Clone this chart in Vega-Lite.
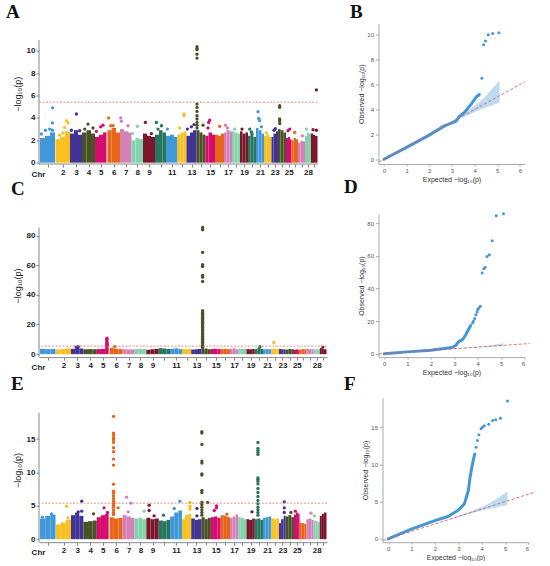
{
"$schema": "https://vega.github.io/schema/vega-lite/v6.json",
"background": "white",
"padding": {"left": 6, "top": 2.5, "right": 0, "bottom": 0},
"config": {
  "view": {"stroke": null},
  "font": "Liberation Sans",
  "axis": {"grid": false, "labelOverlap": false, "labelSeparation": 0},
  "title": {"font": "Liberation Serif", "fontSize": 19, "fontWeight": "bold", "anchor": "start", "frame": "group", "color": "#111", "baseline": "alphabetic"}
},
"datasets": {
"seg": [
{"c":1,"x":1,"x2":6,"hA":2.2,"hC":3.6,"hE":3.1},{"c":1,"x":6,"x2":11,"hA":2.4,"hC":3.4,"hE":3.5},{"c":1,"x":11,"x2":16,"hA":2.7,"hC":3.5,"hE":3.7},
{"c":2,"x":16.5,"x2":21,"hA":2.1,"hC":3.2,"hE":2.2},{"c":2,"x":21,"x2":26,"hA":2.3,"hC":3.4,"hE":2.5},{"c":2,"x":26,"x2":31,"hA":2.8,"hC":3.8,"hE":2.9},
{"c":3,"x":31,"x2":35,"hA":2.6,"hC":3.6,"hE":3.6},{"c":3,"x":35,"x2":39,"hA":2.9,"hC":4.4,"hE":4.0},{"c":3,"x":39,"x2":43,"hA":2.5,"hC":3.8,"hE":3.5},
{"c":4,"x":43,"x2":47.5,"hA":2.7,"hC":3.3,"hE":2.6},{"c":4,"x":47.5,"x2":52,"hA":2.9,"hC":3.4,"hE":2.7},{"c":4,"x":52,"x2":56,"hA":2.6,"hC":3.3,"hE":2.8},
{"c":5,"x":56,"x2":60,"hA":2.3,"hC":3.4,"hE":3.3},{"c":5,"x":60,"x2":64,"hA":2.5,"hC":3.5,"hE":3.6},{"c":5,"x":64,"x2":67.5,"hA":2.7,"hC":4.2,"hE":3.8},
{"c":6,"x":68.5,"x2":72.5,"hA":2.9,"hC":4.2,"hE":3.3},{"c":6,"x":72.5,"x2":77,"hA":3.1,"hC":3.5,"hE":3.1},{"c":6,"x":77,"x2":81,"hA":2.7,"hC":3.4,"hE":3.2},
{"c":7,"x":81,"x2":85,"hA":3.0,"hC":3.3,"hE":3.6},{"c":7,"x":85,"x2":89,"hA":2.8,"hC":3.1,"hE":3.4},{"c":7,"x":89,"x2":92.5,"hA":2.7,"hC":3.2,"hE":3.2},
{"c":8,"x":92.5,"x2":96.5,"hA":2.0,"hC":3.4,"hE":3.1},{"c":8,"x":96.5,"x2":100,"hA":2.2,"hC":3.5,"hE":3.2},{"c":8,"x":100,"x2":104,"hA":2.1,"hC":3.4,"hE":3.0},
{"c":9,"x":104,"x2":108,"hA":2.6,"hC":3.0,"hE":3.2},{"c":9,"x":108,"x2":112,"hA":2.4,"hC":3.3,"hE":3.0},{"c":9,"x":112,"x2":116,"hA":2.3,"hC":3.6,"hE":3.1},
{"c":10,"x":116,"x2":120,"hA":2.5,"hC":4.0,"hE":2.8},{"c":10,"x":120,"x2":123.5,"hA":2.9,"hC":3.8,"hE":2.7},{"c":10,"x":123.5,"x2":127,"hA":2.7,"hC":3.5,"hE":2.9},
{"c":11,"x":127,"x2":131,"hA":2.4,"hC":3.6,"hE":3.4},{"c":11,"x":131,"x2":135,"hA":2.5,"hC":3.9,"hE":4.0},{"c":11,"x":135,"x2":138.5,"hA":2.3,"hC":3.4,"hE":4.3},
{"c":12,"x":138.5,"x2":141.5,"hA":2.5,"hC":3.5,"hE":3.0},{"c":12,"x":141.5,"x2":144.5,"hA":2.7,"hC":3.3,"hE":3.6},{"c":12,"x":144.5,"x2":147.5,"hA":2.8,"hC":3.4,"hE":3.8},
{"c":13,"x":147.5,"x2":151,"hA":2.4,"hC":3.1,"hE":3.1},{"c":13,"x":151,"x2":154,"hA":2.7,"hC":3.3,"hE":2.9},{"c":13,"x":154,"x2":157.5,"hA":2.9,"hC":3.5,"hE":3.0},
{"c":14,"x":157.5,"x2":160.5,"hA":2.9,"hC":3.6,"hE":3.3},{"c":14,"x":160.5,"x2":163.5,"hA":2.7,"hC":3.8,"hE":3.0},{"c":14,"x":163.5,"x2":166.5,"hA":2.5,"hC":3.3,"hE":3.2},
{"c":15,"x":166.5,"x2":169.5,"hA":2.4,"hC":3.5,"hE":3.3},{"c":15,"x":169.5,"x2":173,"hA":2.7,"hC":3.6,"hE":3.4},{"c":15,"x":173,"x2":176,"hA":2.5,"hC":3.5,"hE":3.2},
{"c":16,"x":176,"x2":179,"hA":2.5,"hC":3.4,"hE":3.6},{"c":16,"x":179,"x2":182,"hA":2.4,"hC":3.5,"hE":3.5},{"c":16,"x":182,"x2":185,"hA":2.6,"hC":3.3,"hE":3.3},
{"c":17,"x":185,"x2":187.5,"hA":2.7,"hC":3.6,"hE":3.2},{"c":17,"x":187.5,"x2":190.5,"hA":2.9,"hC":3.9,"hE":3.4},{"c":17,"x":190.5,"x2":193,"hA":2.8,"hC":3.3,"hE":3.7},
{"c":18,"x":193,"x2":195.5,"hA":2.8,"hC":3.7,"hE":3.3},{"c":18,"x":195.5,"x2":198.5,"hA":2.7,"hC":3.6,"hE":3.2},{"c":18,"x":198.5,"x2":201,"hA":2.6,"hC":3.5,"hE":3.0},
{"c":19,"x":201,"x2":203.5,"hA":2.8,"hC":3.4,"hE":3.0},{"c":19,"x":203.5,"x2":206.5,"hA":2.6,"hC":3.3,"hE":2.9},{"c":19,"x":206.5,"x2":209,"hA":2.7,"hC":3.5,"hE":3.1},
{"c":20,"x":209,"x2":211.5,"hA":2.4,"hC":3.4,"hE":3.0},{"c":20,"x":211.5,"x2":214.5,"hA":2.7,"hC":4.3,"hE":3.1},{"c":20,"x":214.5,"x2":217,"hA":2.3,"hC":3.6,"hE":2.9},
{"c":21,"x":217,"x2":219.5,"hA":3.1,"hC":3.2,"hE":3.2},{"c":21,"x":219.5,"x2":222.5,"hA":2.9,"hC":3.4,"hE":3.3},{"c":21,"x":222.5,"x2":225,"hA":2.6,"hC":3.3,"hE":3.4},
{"c":22,"x":225,"x2":227.5,"hA":2.4,"hC":3.5,"hE":3.1},{"c":22,"x":227.5,"x2":230,"hA":2.5,"hC":3.7,"hE":3.0},{"c":22,"x":230,"x2":232.5,"hA":2.3,"hC":3.4,"hE":3.1},
{"c":23,"x":232.5,"x2":234.5,"hA":2.3,"hC":3.6,"hE":2.4},{"c":23,"x":234.5,"x2":237,"hA":2.6,"hC":3.3,"hE":3.0},{"c":23,"x":237,"x2":239,"hA":2.8,"hC":3.2,"hE":3.5},
{"c":24,"x":239,"x2":241.5,"hA":3.0,"hC":3.1,"hE":3.4},{"c":24,"x":241.5,"x2":244.5,"hA":2.9,"hC":3.5,"hE":3.6},{"c":24,"x":244.5,"x2":247,"hA":2.7,"hC":3.3,"hE":3.3},
{"c":25,"x":247,"x2":249,"hA":2.2,"hC":3.0,"hE":3.7},{"c":25,"x":249,"x2":251,"hA":2.3,"hC":3.2,"hE":4.0},{"c":25,"x":251,"x2":252.5,"hA":2.1,"hC":3.0,"hE":3.8},
{"c":26,"x":252.5,"x2":254.5,"hA":2.0,"hC":3.2,"hE":2.5},{"c":26,"x":254.5,"x2":257,"hA":2.2,"hC":3.4,"hE":2.4},{"c":26,"x":257,"x2":259,"hA":2.1,"hC":3.3,"hE":2.3},
{"c":27,"x":259,"x2":261.5,"hA":1.8,"hC":3.5,"hE":3.0},{"c":27,"x":261.5,"x2":264,"hA":1.95,"hC":3.3,"hE":3.1},{"c":27,"x":264,"x2":266,"hA":1.9,"hC":3.4,"hE":2.9},
{"c":28,"x":266,"x2":268,"hA":2.4,"hC":3.3,"hE":2.8},{"c":28,"x":268,"x2":270,"hA":2.7,"hC":3.4,"hE":2.7},{"c":28,"x":270,"x2":272,"hA":2.6,"hC":3.2,"hE":2.6},
{"c":29,"x":272,"x2":274,"hA":2.6,"hC":4.2,"hE":3.5},{"c":29,"x":274,"x2":276,"hA":2.5,"hC":3.6,"hE":3.8},{"c":29,"x":276,"x2":278.5,"hA":2.4,"hC":3.3,"hE":4.0}
],
"ptsA": [
{"c":1,"x":2.4,"y":2.56},{"c":1,"x":6.4,"y":2.9},{"c":1,"x":10.7,"y":3.0},{"c":1,"x":13.4,"y":2.9},{"c":1,"x":13.4,"y":3.55},{"c":1,"x":13.6,"y":4.9},
{"c":2,"x":20.7,"y":2.45},{"c":2,"x":24,"y":2.65},{"c":2,"x":25.7,"y":3.15},{"c":2,"x":27.4,"y":3.75},{"c":2,"x":29,"y":3.55},
{"c":3,"x":32.4,"y":2.9},{"c":3,"x":37.4,"y":4.35},{"c":3,"x":40.7,"y":2.85},
{"c":4,"x":45.7,"y":3.0},{"c":4,"x":49,"y":3.45},{"c":4,"x":54,"y":3.1},
{"c":5,"x":57.4,"y":2.8},{"c":5,"x":61.7,"y":3.2},{"c":5,"x":64,"y":3.35},
{"c":6,"x":69.7,"y":4.0},{"c":6,"x":71.7,"y":3.3},{"c":6,"x":74,"y":3.3},
{"c":7,"x":81.7,"y":4.0},{"c":7,"x":82.4,"y":3.7},{"c":7,"x":89,"y":3.3},
{"c":8,"x":93.4,"y":2.6},{"c":8,"x":98.4,"y":3.25},
{"c":9,"x":106.4,"y":3.6},{"c":9,"x":112.4,"y":2.6},
{"c":10,"x":117.4,"y":3.6},{"c":10,"x":119,"y":3.0},{"c":10,"x":122.4,"y":3.3},
{"c":11,"x":128.4,"y":3.0},
{"c":12,"x":140.7,"y":3.1},{"c":12,"x":145,"y":4.35},{"c":12,"x":145,"y":4.2},
{"c":13,"x":148.4,"y":3.0},{"c":13,"x":152.4,"y":3.2},{"c":13,"x":155,"y":3.4},
{"c":14,"x":158,"y":10.36},{"c":14,"x":158,"y":10.2},{"c":14,"x":158,"y":10.1},{"c":14,"x":158,"y":9.7},{"c":14,"x":158,"y":9.35},{"c":14,"x":158,"y":5.24},{"c":14,"x":158,"y":4.94},{"c":14,"x":158,"y":4.58},{"c":14,"x":158,"y":4.2},{"c":14,"x":158,"y":3.9},{"c":14,"x":158,"y":3.6},{"c":14,"x":158,"y":3.35},{"c":14,"x":158,"y":3.1},{"c":14,"x":164,"y":3.35},
{"c":15,"x":169,"y":3.1},{"c":15,"x":169.7,"y":3.6},{"c":15,"x":170.7,"y":3.8},
{"c":16,"x":180.7,"y":3.25},
{"c":17,"x":186.4,"y":3.35},{"c":17,"x":188.4,"y":3.1},
{"c":18,"x":195.7,"y":3.0},
{"c":19,"x":203,"y":3.0},
{"c":20,"x":210.7,"y":3.0},{"c":20,"x":212.4,"y":2.75},
{"c":21,"x":219,"y":4.55},{"c":21,"x":219.7,"y":3.95},{"c":21,"x":220.7,"y":3.75},{"c":21,"x":222.4,"y":3.2},
{"c":22,"x":227.4,"y":2.65},
{"c":23,"x":235,"y":2.9},{"c":23,"x":236.4,"y":3.05},
{"c":24,"x":240.7,"y":5.1},{"c":24,"x":240.7,"y":4.95},{"c":24,"x":240.7,"y":3.9},{"c":24,"x":240.7,"y":3.75},{"c":24,"x":240.7,"y":3.5},
{"c":25,"x":249,"y":2.85},{"c":25,"x":250.7,"y":3.0},
{"c":26,"x":255.7,"y":2.7},
{"c":27,"x":263.4,"y":2.4},
{"c":28,"x":267.4,"y":3.0},
{"c":29,"x":274,"y":2.95},{"c":29,"x":277.4,"y":2.9},{"c":29,"x":277.4,"y":6.5}
],
"ptsC": [
{"c":3,"x":36,"y":4.8},{"c":3,"x":38,"y":5.0},
{"c":5,"x":65.8,"y":5.0},{"c":5,"x":65.8,"y":6.0},{"c":5,"x":65.8,"y":7.0},{"c":5,"x":65.8,"y":8.0},{"c":5,"x":65.8,"y":9.0},{"c":5,"x":65.8,"y":10.0},{"c":5,"x":65.8,"y":10.8},{"c":5,"x":65.3,"y":5.5},{"c":5,"x":66.3,"y":6.5},
{"c":6,"x":73.5,"y":5.0},
{"c":14,"x":158.5,"y":85.6},{"c":14,"x":158.5,"y":84.5},{"c":14,"x":158.5,"y":84},{"c":14,"x":158.5,"y":68.7},{"c":14,"x":158.5,"y":60.4},{"c":14,"x":158.5,"y":59.2},{"c":14,"x":158.5,"y":53.2},{"c":14,"x":158.5,"y":52},{"c":14,"x":158.5,"y":49.1},{"c":14,"x":158.5,"y":29.3},{"c":14,"x":158.5,"y":28.5},{"c":14,"x":158.5,"y":27.7},{"c":14,"x":158.5,"y":26.5},{"c":14,"x":158.5,"y":25.5},{"c":14,"x":158.5,"y":24.3},{"c":14,"x":158.5,"y":23.4},{"c":14,"x":158.5,"y":22.5},{"c":14,"x":158.5,"y":21.5},{"c":14,"x":158.5,"y":20.5},{"c":14,"x":158.5,"y":19.9},{"c":14,"x":158.5,"y":19},{"c":14,"x":158.5,"y":18},{"c":14,"x":158.5,"y":17},{"c":14,"x":158.5,"y":16},{"c":14,"x":158.5,"y":15},{"c":14,"x":158.5,"y":14},{"c":14,"x":158.5,"y":13},{"c":14,"x":158.5,"y":12},{"c":14,"x":158.5,"y":11},{"c":14,"x":158.5,"y":10},{"c":14,"x":158.5,"y":9},{"c":14,"x":158.5,"y":8},{"c":14,"x":158.5,"y":7},{"c":14,"x":158.5,"y":6},{"c":14,"x":158.5,"y":5},{"c":14,"x":158.5,"y":4.5},
{"c":20,"x":214,"y":5.0},
{"c":22,"x":227.5,"y":7.9},
{"c":29,"x":275,"y":4.8}
],
"ptsE": [
{"c":1,"x":3.3,"y":3.3},{"c":1,"x":12,"y":3.8},
{"c":2,"x":26.6,"y":4.95},{"c":2,"x":28,"y":3.2},
{"c":3,"x":41.4,"y":5.7},{"c":3,"x":41.4,"y":4.2},{"c":3,"x":38,"y":4.1},
{"c":4,"x":52.8,"y":3.8},
{"c":5,"x":63,"y":4.7},{"c":5,"x":66.3,"y":4.0},
{"c":6,"x":72.2,"y":18.4},{"c":6,"x":72.2,"y":15.9},{"c":6,"x":72.2,"y":15.6},{"c":6,"x":72.2,"y":15.2},{"c":6,"x":72.2,"y":14.9},{"c":6,"x":72.2,"y":14.5},{"c":6,"x":72.2,"y":13.7},{"c":6,"x":72.2,"y":13.1},{"c":6,"x":72.2,"y":12.0},{"c":6,"x":72.2,"y":11.1},{"c":6,"x":72.2,"y":8.25},{"c":6,"x":72.2,"y":7.2},{"c":6,"x":72.2,"y":6.9},{"c":6,"x":72.2,"y":6.5},{"c":6,"x":72.2,"y":6.1},{"c":6,"x":72.2,"y":5.7},{"c":6,"x":72.2,"y":5.4},{"c":6,"x":72.2,"y":5.1},{"c":6,"x":72.2,"y":4.8},{"c":6,"x":72.2,"y":4.4},{"c":6,"x":72.2,"y":4.0},{"c":6,"x":72.2,"y":3.7},{"c":6,"x":76.6,"y":4.7},
{"c":7,"x":84.8,"y":6.3},{"c":7,"x":89,"y":5.4},{"c":7,"x":86.4,"y":4.1},
{"c":8,"x":101.9,"y":4.2},
{"c":9,"x":106.7,"y":5.1},{"c":9,"x":106.7,"y":4.3},{"c":9,"x":111.5,"y":3.5},
{"c":10,"x":120.6,"y":3.6},
{"c":11,"x":136.5,"y":5.7},{"c":11,"x":131,"y":4.6},
{"c":12,"x":146.2,"y":5.5},{"c":12,"x":146.2,"y":4.9},{"c":12,"x":146.2,"y":4.5},
{"c":13,"x":153,"y":4.6},{"c":13,"x":153,"y":3.5},
{"c":14,"x":157.8,"y":16.1},{"c":14,"x":157.8,"y":15.9},{"c":14,"x":157.8,"y":14.2},{"c":14,"x":157.8,"y":11.7},{"c":14,"x":157.8,"y":11.4},{"c":14,"x":157.8,"y":9.8},{"c":14,"x":157.8,"y":9.6},{"c":14,"x":157.8,"y":7.3},{"c":14,"x":157.8,"y":7.0},{"c":14,"x":157.8,"y":5.5},{"c":14,"x":157.8,"y":5.2},{"c":14,"x":157.8,"y":4.8},{"c":14,"x":157.8,"y":4.4},{"c":14,"x":157.8,"y":4.0},{"c":14,"x":157.8,"y":3.6},{"c":14,"x":163.3,"y":5.5},
{"c":15,"x":172,"y":5.0},{"c":15,"x":172,"y":4.7},{"c":15,"x":169.8,"y":4.3},
{"c":16,"x":182,"y":3.75},
{"c":19,"x":206.3,"y":4.1},
{"c":20,"x":212.1,"y":14.5},{"c":20,"x":212.1,"y":13.6},{"c":20,"x":212.1,"y":13.3},{"c":20,"x":212.1,"y":13.0},{"c":20,"x":212.1,"y":12.7},{"c":20,"x":212.1,"y":9.2},{"c":20,"x":212.1,"y":9.0},{"c":20,"x":212.1,"y":8.7},{"c":20,"x":212.1,"y":8.3},{"c":20,"x":212.1,"y":7.6},{"c":20,"x":212.1,"y":7.0},{"c":20,"x":212.1,"y":6.4},{"c":20,"x":212.1,"y":5.8},{"c":20,"x":212.1,"y":5.3},{"c":20,"x":212.1,"y":4.8},{"c":20,"x":212.1,"y":4.4},{"c":20,"x":212.1,"y":4.0},{"c":20,"x":212.1,"y":3.6},
{"c":23,"x":237.6,"y":5.6},{"c":23,"x":237.6,"y":4.7},{"c":23,"x":237.6,"y":4.0},
{"c":24,"x":244,"y":4.0},
{"c":25,"x":248.3,"y":4.2},
{"c":27,"x":263.5,"y":3.9},
{"c":28,"x":266.8,"y":3.5}
],
"band": [
{"x":2.5,"lo":2.47,"hi":2.53},{"x":3.1,"lo":3.02,"hi":3.19},{"x":3.6,"lo":3.46,"hi":3.77},{"x":4.1,"lo":3.87,"hi":4.42},{"x":4.5,"lo":4.16,"hi":5.07},{"x":4.8,"lo":4.36,"hi":5.72},{"x":5.1,"lo":4.55,"hi":6.35}
],
"diag": [{"x":-0.22,"y":-0.22},{"x":6.22,"y":6.22}],
"lineB": [
{"x":0,"y":0},{"x":1,"y":0.95},{"x":1.94,"y":1.88},{"x":2.67,"y":2.68},{"x":3.11,"y":3.0},{"x":3.2,"y":3.1},{"x":3.3,"y":3.4},{"x":3.55,"y":3.76},{"x":3.85,"y":4.43},{"x":4.07,"y":5.0},{"x":4.21,"y":5.2}
],
"ptB": [
{"x":4.32,"y":6.5},{"x":4.4,"y":9.2},{"x":4.48,"y":9.5},{"x":4.6,"y":10.0},{"x":4.8,"y":10.1},{"x":5.07,"y":10.16}
],
"lineD": [
{"x":0,"y":0},{"x":1,"y":1.1},{"x":2,"y":2.1},{"x":2.9,"y":3.8},{"x":3.06,"y":5.0},{"x":3.2,"y":7.6},{"x":3.35,"y":8.6},{"x":3.49,"y":11.6},{"x":3.6,"y":14.7},{"x":3.7,"y":17.2}
],
"ptD": [
{"x":3.78,"y":18.8},{"x":3.82,"y":19.8},{"x":3.87,"y":21.5},{"x":3.92,"y":23.9},{"x":3.97,"y":25.6},{"x":4.0,"y":27},{"x":4.05,"y":28},{"x":4.11,"y":29},
{"x":4.19,"y":49.4},{"x":4.26,"y":52},{"x":4.32,"y":52.9},{"x":4.4,"y":59.6},{"x":4.5,"y":60.6},{"x":4.62,"y":69.2},{"x":4.79,"y":84.5},{"x":5.1,"y":85.7}
],
"lineF": [
{"x":0,"y":0},{"x":0.99,"y":1.3},{"x":2.0,"y":2.45},{"x":2.56,"y":3.0},{"x":2.98,"y":3.8},{"x":3.26,"y":4.7},{"x":3.43,"y":6.5},{"x":3.5,"y":8.2},{"x":3.6,"y":10},{"x":3.7,"y":11.4}
],
"ptF": [
{"x":3.76,"y":12.3},{"x":3.82,"y":13.2},{"x":3.88,"y":14.0},{"x":3.97,"y":14.8},{"x":4.03,"y":15.0},{"x":4.11,"y":15.2},{"x":4.3,"y":15.4},{"x":4.47,"y":15.9},{"x":4.6,"y":16.0},{"x":4.8,"y":16.2},{"x":5.1,"y":18.5}
]
},
"spacing": -0.8,
"resolve": {"scale": {"x": "independent", "y": "independent"}},
"vconcat": [
{"spacing": -5.4, "resolve": {"scale": {"x": "independent", "y": "independent"}}, "vconcat": [
{"resolve": {"scale": {"x": "independent", "y": "independent"}}, "hconcat": [
 {"width": 288, "height": 140.5,
  "title": {"text": "A", "offset": 2, "dx": -33},
  "layer": [
   {"data": {"name": "seg"}, "mark": {"type": "rect"},
    "encoding": {
     "x": {"field": "x", "type": "quantitative", "title": "Chr", "scale": {"domain": [0, 288], "nice": false, "zero": false},
       "axis": {"values": [8.5,23.8,37,49.5,61.8,74.8,86.8,98.3,110,121.5,132.8,143,152.5,162,171.3,180.5,189,197,205,213,221,228.8,235.8,243,249.8,255.8,262.5,269,275.3], "tickCount": 100, "domain": false,
        "labelExpr": "['','2','3','4','5','6','7','8','9','','11','','13','','15','','17','','19','','21','','23','','25','','','28',''][indexof([8.5,23.8,37,49.5,61.8,74.8,86.8,98.3,110,121.5,132.8,143,152.5,162,171.3,180.5,189,197,205,213,221,228.8,235.8,243,249.8,255.8,262.5,269,275.3], datum.value)]",
        "labelFontSize": 8, "labelFontWeight": "bold", "labelColor": "#222", "labelPadding": 1.5, "labelOverlap": false, "labelFlush": false,
        "tickColor": "#888", "tickSize": 3,
        "titleX": -1, "titleY": 12.5, "titleAlign": "center", "titleBaseline": "alphabetic", "titleAngle": 0, "titleFontSize": 8, "titleFontWeight": "bold", "titleColor": "#222"}},
     "x2": {"field": "x2"},
     "y": {"field": "hA", "type": "quantitative", "title": "−log₁₀(p)", "scale": {"domain": [-0.12, 12.44], "nice": false, "zero": false},
       "axis": {"values": [0,2,4,6,8,10], "tickCount": 100, "format": "d", "domain": false, "labelOverlap": false, "labelFontSize": 8, "labelFontWeight": "bold", "labelColor": "#222", "labelPadding": 1, "tickColor": "#888", "tickSize": 3, "titleFontSize": 9, "titleFontWeight": "normal", "titleColor": "#222", "titlePadding": 4}},
     "y2": {"datum": 0},
     "color": {"field": "c", "type": "nominal", "legend": null, "scale": {"domain": [1,2,3,4,5,6,7,8,9,10,11,12,13,14,15,16,17,18,19,20,21,22,23,24,25,26,27,28,29], "range": ["#4197d8","#f8c120","#413496","#495226","#d60b6f","#e66519","#d581b7","#83d3ad","#7c162c","#26755d","#4197d8","#f8c120","#413496","#495226","#d60b6f","#e66519","#d581b7","#83d3ad","#7c162c","#26755d","#4197d8","#f8c120","#413496","#495226","#d60b6f","#e66519","#d581b7","#83d3ad","#7c162c"]}}
    }},
   {"data": {"name": "ptsA"}, "mark": {"type": "circle", "size": 11, "opacity": 1},
    "encoding": {"x": {"field": "x", "type": "quantitative", "title": "Chr"}, "y": {"field": "y", "type": "quantitative", "title": "−log₁₀(p)"}, "color": {"field": "c", "type": "nominal"}}},
   {"data": {"values": [{"t": 5.4, "a": 0, "b": 279}]}, "mark": {"type": "rule", "color": "#e8706c", "strokeDash": [2, 1.5], "strokeWidth": 1, "opacity": 0.8},
    "encoding": {"y": {"field": "t", "type": "quantitative", "title": "−log₁₀(p)"}, "x": {"field": "a", "type": "quantitative", "title": "Chr"}, "x2": {"field": "b"}}},
   {"data": {"values": [{"t": -0.12, "a": 0, "b": 279}]}, "mark": {"type": "rule", "color": "#888"},
    "encoding": {"y": {"field": "t", "type": "quantitative", "title": "−log₁₀(p)"}, "x": {"field": "a", "type": "quantitative", "title": "Chr"}, "x2": {"field": "b"}}},
   {"data": {"values": [{"a": -0.12, "b": 10.96}]}, "mark": {"type": "rule", "color": "#888"},
    "encoding": {"x": {"datum": 0, "type": "quantitative", "title": "Chr"}, "y": {"field": "a", "type": "quantitative", "title": "−log₁₀(p)"}, "y2": {"field": "b"}}}
  ]},
 {"width": 146, "height": 140.5,
  "title": {"text": "B", "offset": 2, "dx": -28.5},
  "layer": [
   {"data": {"name": "band"}, "mark": {"type": "area", "color": "#4197d8", "opacity": 0.35},
    "encoding": {
     "x": {"field": "x", "type": "quantitative", "title": "Expected  −log₁₀(p)", "scale": {"domain": [-0.24, 6.2], "nice": false, "zero": false},
       "axis": {"values": [0,1,2,3,4,5,6], "tickCount": 100, "format": "d", "labelOverlap": false, "labelFontSize": 6, "labelColor": "#555", "labelPadding": 1, "domainColor": "#aaa", "tickColor": "#aaa", "tickSize": 2, "titleFontSize": 7, "titleFontWeight": "normal", "titleColor": "#333", "titlePadding": 2}},
     "y": {"field": "lo", "type": "quantitative", "title": "Observed  −log₁₀(p)", "scale": {"domain": [-0.38, 10.9], "nice": false, "zero": false},
       "axis": {"values": [0,2,4,6,8,10], "tickCount": 100, "format": "d", "labelOverlap": false, "labelFontSize": 6, "labelColor": "#555", "labelPadding": 2, "domainColor": "#aaa", "tickColor": "#aaa", "tickSize": 3, "titleFontSize": 7, "titleFontWeight": "normal", "titleColor": "#333", "titlePadding": 2}},
     "y2": {"field": "hi"}}},
   {"data": {"name": "lineB"}, "mark": {"type": "line", "color": "#4197d8", "strokeWidth": 3, "strokeCap": "round", "strokeJoin": "round"},
    "encoding": {"x": {"field": "x", "type": "quantitative", "title": "Expected  −log₁₀(p)"}, "y": {"field": "y", "type": "quantitative", "title": "Observed  −log₁₀(p)"}}},
   {"data": {"name": "diag"}, "mark": {"type": "line", "color": "#e8545a", "strokeDash": [3, 2], "strokeWidth": 1, "opacity": 0.85},
    "encoding": {"x": {"field": "x", "type": "quantitative", "title": "Expected  −log₁₀(p)"}, "y": {"field": "y", "type": "quantitative", "title": "Observed  −log₁₀(p)"}}},
   {"data": {"name": "ptB"}, "mark": {"type": "circle", "color": "#4197d8", "size": 9, "opacity": 1},
    "encoding": {"x": {"field": "x", "type": "quantitative", "title": "Expected  −log₁₀(p)"}, "y": {"field": "y", "type": "quantitative", "title": "Observed  −log₁₀(p)"}}}
  ]}
], "spacing": 22.5},
{"resolve": {"scale": {"x": "independent", "y": "independent"}}, "hconcat": [
 {"width": 288, "height": 143,
  "title": {"text": "C", "offset": 15.4, "dx": -28},
  "layer": [
   {"data": {"name": "seg"}, "mark": {"type": "rect"},
    "encoding": {
     "x": {"field": "x", "type": "quantitative", "title": "Chr", "scale": {"domain": [0, 279], "nice": false, "zero": false},
       "axis": {"values": [8.5,23.8,37,49.5,61.8,74.8,86.8,98.3,110,121.5,132.8,143,152.5,162,171.3,180.5,189,197,205,213,221,228.8,235.8,243,249.8,255.8,262.5,269,275.3], "tickCount": 100,
        "labelExpr": "['','2','3','4','5','6','7','8','9','','11','','13','','15','','17','','19','','21','','23','','25','','','28',''][indexof([8.5,23.8,37,49.5,61.8,74.8,86.8,98.3,110,121.5,132.8,143,152.5,162,171.3,180.5,189,197,205,213,221,228.8,235.8,243,249.8,255.8,262.5,269,275.3], datum.value)]",
        "labelFontSize": 8, "labelFontWeight": "bold", "labelColor": "#222", "labelPadding": 1.5, "labelOverlap": false, "labelFlush": false,
        "domainColor": "#888", "tickColor": "#888", "tickSize": 3,
        "titleX": -1, "titleY": 12.5, "titleAlign": "center", "titleBaseline": "alphabetic", "titleAngle": 0, "titleFontSize": 8, "titleFontWeight": "bold", "titleColor": "#222"}},
     "x2": {"field": "x2"},
     "y": {"field": "hC", "type": "quantitative", "title": "−log₁₀(p)", "scale": {"domain": [-2.0, 94.6], "nice": false, "zero": false},
       "axis": {"values": [0,20,40,60,80], "tickCount": 100, "format": "d", "domain": false, "labelOverlap": false, "labelFontSize": 8, "labelFontWeight": "bold", "labelColor": "#222", "labelPadding": 1, "tickColor": "#888", "tickSize": 3, "titleFontSize": 9, "titleFontWeight": "normal", "titleColor": "#222", "titlePadding": 4}},
     "y2": {"datum": 0},
     "color": {"field": "c", "type": "nominal", "legend": null, "scale": {"domain": [1,2,3,4,5,6,7,8,9,10,11,12,13,14,15,16,17,18,19,20,21,22,23,24,25,26,27,28,29], "range": ["#4197d8","#f8c120","#413496","#495226","#d60b6f","#e66519","#d581b7","#83d3ad","#7c162c","#26755d","#4197d8","#f8c120","#413496","#495226","#d60b6f","#e66519","#d581b7","#83d3ad","#7c162c","#26755d","#4197d8","#f8c120","#413496","#495226","#d60b6f","#e66519","#d581b7","#83d3ad","#7c162c"]}}
    }},
   {"data": {"name": "ptsC"}, "mark": {"type": "circle", "size": 11, "opacity": 1},
    "encoding": {"x": {"field": "x", "type": "quantitative", "title": "Chr"}, "y": {"field": "y", "type": "quantitative", "title": "−log₁₀(p)"}, "color": {"field": "c", "type": "nominal"}}},
   {"data": {"values": [{"t": 5.4}]}, "mark": {"type": "rule", "color": "#e8706c", "strokeDash": [2, 1.5], "strokeWidth": 1, "opacity": 0.8},
    "encoding": {"y": {"field": "t", "type": "quantitative", "title": "−log₁₀(p)"}}},
   {"data": {"values": [{"a": -2.0, "b": 85.6}]}, "mark": {"type": "rule", "color": "#888"},
    "encoding": {"x": {"datum": 0, "type": "quantitative", "title": "Chr"}, "y": {"field": "a", "type": "quantitative", "title": "−log₁₀(p)"}, "y2": {"field": "b"}}}
  ]},
 {"width": 146, "height": 143,
  "title": {"text": "D", "offset": 15.4, "dx": -34.5},
  "layer": [
   {"data": {"name": "band"}, "mark": {"type": "area", "color": "#4197d8", "opacity": 0.35},
    "encoding": {
     "x": {"field": "x", "type": "quantitative", "title": "Expected  −log₁₀(p)", "scale": {"domain": [-0.24, 6], "nice": false, "zero": false},
       "axis": {"values": [0,1,2,3,4,5,6], "tickCount": 100, "format": "d", "labelOverlap": false, "labelFontSize": 6, "labelColor": "#555", "labelPadding": 1, "domainColor": "#aaa", "tickColor": "#aaa", "tickSize": 2, "titleFontSize": 7, "titleFontWeight": "normal", "titleColor": "#333", "titlePadding": 2}},
     "y": {"field": "lo", "type": "quantitative", "title": "Observed  −log₁₀(p)", "scale": {"domain": [-2.1, 85.5], "nice": false, "zero": false},
       "axis": {"values": [0,20,40,60,80], "tickCount": 100, "format": "d", "labelOverlap": false, "labelFontSize": 6, "labelColor": "#555", "labelPadding": 2, "domainColor": "#aaa", "tickColor": "#aaa", "tickSize": 3, "titleFontSize": 7, "titleFontWeight": "normal", "titleColor": "#333", "titlePadding": 2}},
     "y2": {"field": "hi"}}},
   {"data": {"name": "lineD"}, "mark": {"type": "line", "color": "#4197d8", "strokeWidth": 3, "strokeCap": "round", "strokeJoin": "round"},
    "encoding": {"x": {"field": "x", "type": "quantitative", "title": "Expected  −log₁₀(p)"}, "y": {"field": "y", "type": "quantitative", "title": "Observed  −log₁₀(p)"}}},
   {"data": {"name": "diag"}, "mark": {"type": "line", "color": "#e8545a", "strokeDash": [3, 2], "strokeWidth": 1, "opacity": 0.85},
    "encoding": {"x": {"field": "x", "type": "quantitative", "title": "Expected  −log₁₀(p)"}, "y": {"field": "y", "type": "quantitative", "title": "Observed  −log₁₀(p)"}}},
   {"data": {"name": "ptD"}, "mark": {"type": "circle", "color": "#4197d8", "size": 9, "opacity": 1},
    "encoding": {"x": {"field": "x", "type": "quantitative", "title": "Expected  −log₁₀(p)"}, "y": {"field": "y", "type": "quantitative", "title": "Observed  −log₁₀(p)"}}}
  ]}
], "spacing": 15.5}
]},
{"resolve": {"scale": {"x": "independent", "y": "independent"}}, "hconcat": [
 {"width": 288, "height": 144.5,
  "title": {"text": "E", "offset": 4, "dx": -28},
  "layer": [
   {"data": {"name": "seg"}, "mark": {"type": "rect"},
    "encoding": {
     "x": {"field": "x", "type": "quantitative", "title": "Chr", "scale": {"domain": [0, 279], "nice": false, "zero": false},
       "axis": {"values": [8.5,23.8,37,49.5,61.8,74.8,86.8,98.3,110,121.5,132.8,143,152.5,162,171.3,180.5,189,197,205,213,221,228.8,235.8,243,249.8,255.8,262.5,269,275.3], "tickCount": 100,
        "labelExpr": "['','2','3','4','5','6','7','8','9','','11','','13','','15','','17','','19','','21','','23','','25','','','28',''][indexof([8.5,23.8,37,49.5,61.8,74.8,86.8,98.3,110,121.5,132.8,143,152.5,162,171.3,180.5,189,197,205,213,221,228.8,235.8,243,249.8,255.8,262.5,269,275.3], datum.value)]",
        "labelFontSize": 8, "labelFontWeight": "bold", "labelColor": "#222", "labelPadding": 1.5, "labelOverlap": false, "labelFlush": false,
        "domainColor": "#888", "tickColor": "#888", "tickSize": 3,
        "titleX": -1, "titleY": 12.5, "titleAlign": "center", "titleBaseline": "alphabetic", "titleAngle": 0, "titleFontSize": 8, "titleFontWeight": "bold", "titleColor": "#222"}},
     "x2": {"field": "x2"},
     "y": {"field": "hE", "type": "quantitative", "title": "−log₁₀(p)", "scale": {"domain": [-0.45, 21.2], "nice": false, "zero": false},
       "axis": {"values": [0,5,10,15], "tickCount": 100, "format": "d", "domain": false, "labelOverlap": false, "labelFontSize": 8, "labelFontWeight": "bold", "labelColor": "#222", "labelPadding": 1, "tickColor": "#888", "tickSize": 3, "titleFontSize": 9, "titleFontWeight": "normal", "titleColor": "#222", "titlePadding": 4}},
     "y2": {"datum": 0},
     "color": {"field": "c", "type": "nominal", "legend": null, "scale": {"domain": [1,2,3,4,5,6,7,8,9,10,11,12,13,14,15,16,17,18,19,20,21,22,23,24,25,26,27,28,29], "range": ["#4197d8","#f8c120","#413496","#495226","#d60b6f","#e66519","#d581b7","#83d3ad","#7c162c","#26755d","#4197d8","#f8c120","#413496","#495226","#d60b6f","#e66519","#d581b7","#83d3ad","#7c162c","#26755d","#4197d8","#f8c120","#413496","#495226","#d60b6f","#e66519","#d581b7","#83d3ad","#7c162c"]}}
    }},
   {"data": {"name": "ptsE"}, "mark": {"type": "circle", "size": 11, "opacity": 1},
    "encoding": {"x": {"field": "x", "type": "quantitative", "title": "Chr"}, "y": {"field": "y", "type": "quantitative", "title": "−log₁₀(p)"}, "color": {"field": "c", "type": "nominal"}}},
   {"data": {"values": [{"t": 5.4}]}, "mark": {"type": "rule", "color": "#e8706c", "strokeDash": [2, 1.5], "strokeWidth": 1, "opacity": 0.8},
    "encoding": {"y": {"field": "t", "type": "quantitative", "title": "−log₁₀(p)"}}},
   {"data": {"values": [{"a": -0.45, "b": 18.9}]}, "mark": {"type": "rule", "color": "#888"},
    "encoding": {"x": {"datum": 0, "type": "quantitative", "title": "Chr"}, "y": {"field": "a", "type": "quantitative", "title": "−log₁₀(p)"}, "y2": {"field": "b"}}}
  ]},
 {"width": 146, "height": 144.5,
  "title": {"text": "F", "offset": 4, "dx": -38.5},
  "layer": [
   {"data": {"name": "band"}, "mark": {"type": "area", "color": "#4197d8", "opacity": 0.35},
    "encoding": {
     "x": {"field": "x", "type": "quantitative", "title": "Expected  −log₁₀(p)", "scale": {"domain": [-0.24, 6], "nice": false, "zero": false},
       "axis": {"values": [0,1,2,3,4,5,6], "tickCount": 100, "format": "d", "labelOverlap": false, "labelFontSize": 6, "labelColor": "#555", "labelPadding": 1, "domainColor": "#aaa", "tickColor": "#aaa", "tickSize": 2, "titleFontSize": 7, "titleFontWeight": "normal", "titleColor": "#333", "titlePadding": 2}},
     "y": {"field": "lo", "type": "quantitative", "title": "Observed  −log₁₀(p)", "scale": {"domain": [-0.45, 18.96], "nice": false, "zero": false},
       "axis": {"values": [0,5,10,15], "tickCount": 100, "format": "d", "labelOverlap": false, "labelFontSize": 6, "labelColor": "#555", "labelPadding": 2, "domainColor": "#aaa", "tickColor": "#aaa", "tickSize": 3, "titleFontSize": 7, "titleFontWeight": "normal", "titleColor": "#333", "titlePadding": 2}},
     "y2": {"field": "hi"}}},
   {"data": {"name": "lineF"}, "mark": {"type": "line", "color": "#4197d8", "strokeWidth": 3, "strokeCap": "round", "strokeJoin": "round"},
    "encoding": {"x": {"field": "x", "type": "quantitative", "title": "Expected  −log₁₀(p)"}, "y": {"field": "y", "type": "quantitative", "title": "Observed  −log₁₀(p)"}}},
   {"data": {"name": "diag"}, "mark": {"type": "line", "color": "#e8545a", "strokeDash": [3, 2], "strokeWidth": 1, "opacity": 0.85},
    "encoding": {"x": {"field": "x", "type": "quantitative", "title": "Expected  −log₁₀(p)"}, "y": {"field": "y", "type": "quantitative", "title": "Observed  −log₁₀(p)"}}},
   {"data": {"name": "ptF"}, "mark": {"type": "circle", "color": "#4197d8", "size": 9, "opacity": 1},
    "encoding": {"x": {"field": "x", "type": "quantitative", "title": "Expected  −log₁₀(p)"}, "y": {"field": "y", "type": "quantitative", "title": "Observed  −log₁₀(p)"}}}
  ]}
], "spacing": 15.5}
]
}
